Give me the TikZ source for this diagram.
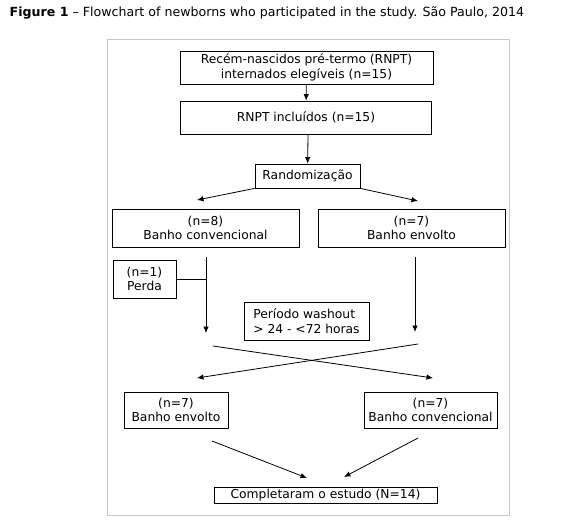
\documentclass[tikz,border=0pt]{standalone}
\usepackage{fontspec}
\setmainfont{DejaVu Sans}
\usetikzlibrary{arrows.meta}
\begin{document}
\begin{tikzpicture}[>={Latex[length=6.5pt,width=5.5pt]}, x=1pt, y=-1pt, line width=.8pt,
    box/.style={draw, align=center, inner sep=0pt, font=\fontsize{12.3}{14.5}\selectfont},
    frame/.style={draw=black!22, line width=1pt}]
\useasboundingbox (0,0) rectangle (574,523);
\node[anchor=west, font=\fontsize{12.6}{15}\selectfont] (title) at (6,13)
    {\textbf{Figure 1} -- Flowchart of newborns who participated in the study. São Paulo, 2014};
\draw[frame] (107,39) rectangle (509,515);

% boxes
\node[box, minimum width=253, minimum height=33] (eleg) at (306.5,67.5)
    {Recém-nascidos pré-termo (RNPT)\\internados elegíveis (n=15)};
\node[box, minimum width=251, minimum height=33] (incl) at (306,117.5) {RNPT incluídos (n=15)};
\node[box, minimum width=105, minimum height=24] (rand) at (307.5,176) {Randomização};
\node[box, minimum width=187, minimum height=38] (conv1) at (205.5,228) {(n=8)\\Banho convencional};
\node[box, minimum width=187, minimum height=38] (env1) at (411.5,228) {(n=7)\\Banho envolto};
\node[box, minimum width=63, minimum height=38] (perda) at (144.5,279) {(n=1)\\Perda};
\node[box, minimum width=125, minimum height=38, align=left] (wash) at (306.5,321)
    {Período washout\\> 24 - <72 horas};
\node[box, minimum width=104, minimum height=36] (env2) at (176,410) {(n=7)\\Banho envolto};
\node[box, minimum width=133, minimum height=36] (conv2) at (430.5,410) {(n=7)\\Banho convencional};
\node[box, minimum width=223, minimum height=16] (fim) at (325.5,495) {Completaram o estudo (N=14)};

% free ends
\coordinate (l1) at (197,200);
\coordinate (r1) at (418,201);
\coordinate (l2a) at (206,257);
\coordinate (l2b) at (206,333);
\coordinate (lp) at (206,279);
\coordinate (r2a) at (415,257);
\coordinate (r2b) at (415,332);
\coordinate (xa) at (213,346);
\coordinate (xb) at (433,378);
\coordinate (xc) at (418,344);
\coordinate (xd) at (197,378);
\coordinate (ba) at (212,441);
\coordinate (bb) at (307,478);
\coordinate (bc) at (418,438);
\coordinate (bd) at (344,477);

\draw[->] (eleg) -- (incl);
\draw[->] (incl.south) ++(2,0) -- (rand);
\draw[->] (rand.south west) -- (l1);
\draw[->] (rand.south east) -- (r1);
\draw[->] (l2a) -- (l2b);
\draw (perda.east) -- (lp);
\draw[->] (r2a) -- (r2b);
\draw[->] (xa) -- (xb);
\draw[->] (xc) -- (xd);
\draw[->] (ba) -- (bb);
\draw[->] (bc) -- (bd);
\end{tikzpicture}
\end{document}
